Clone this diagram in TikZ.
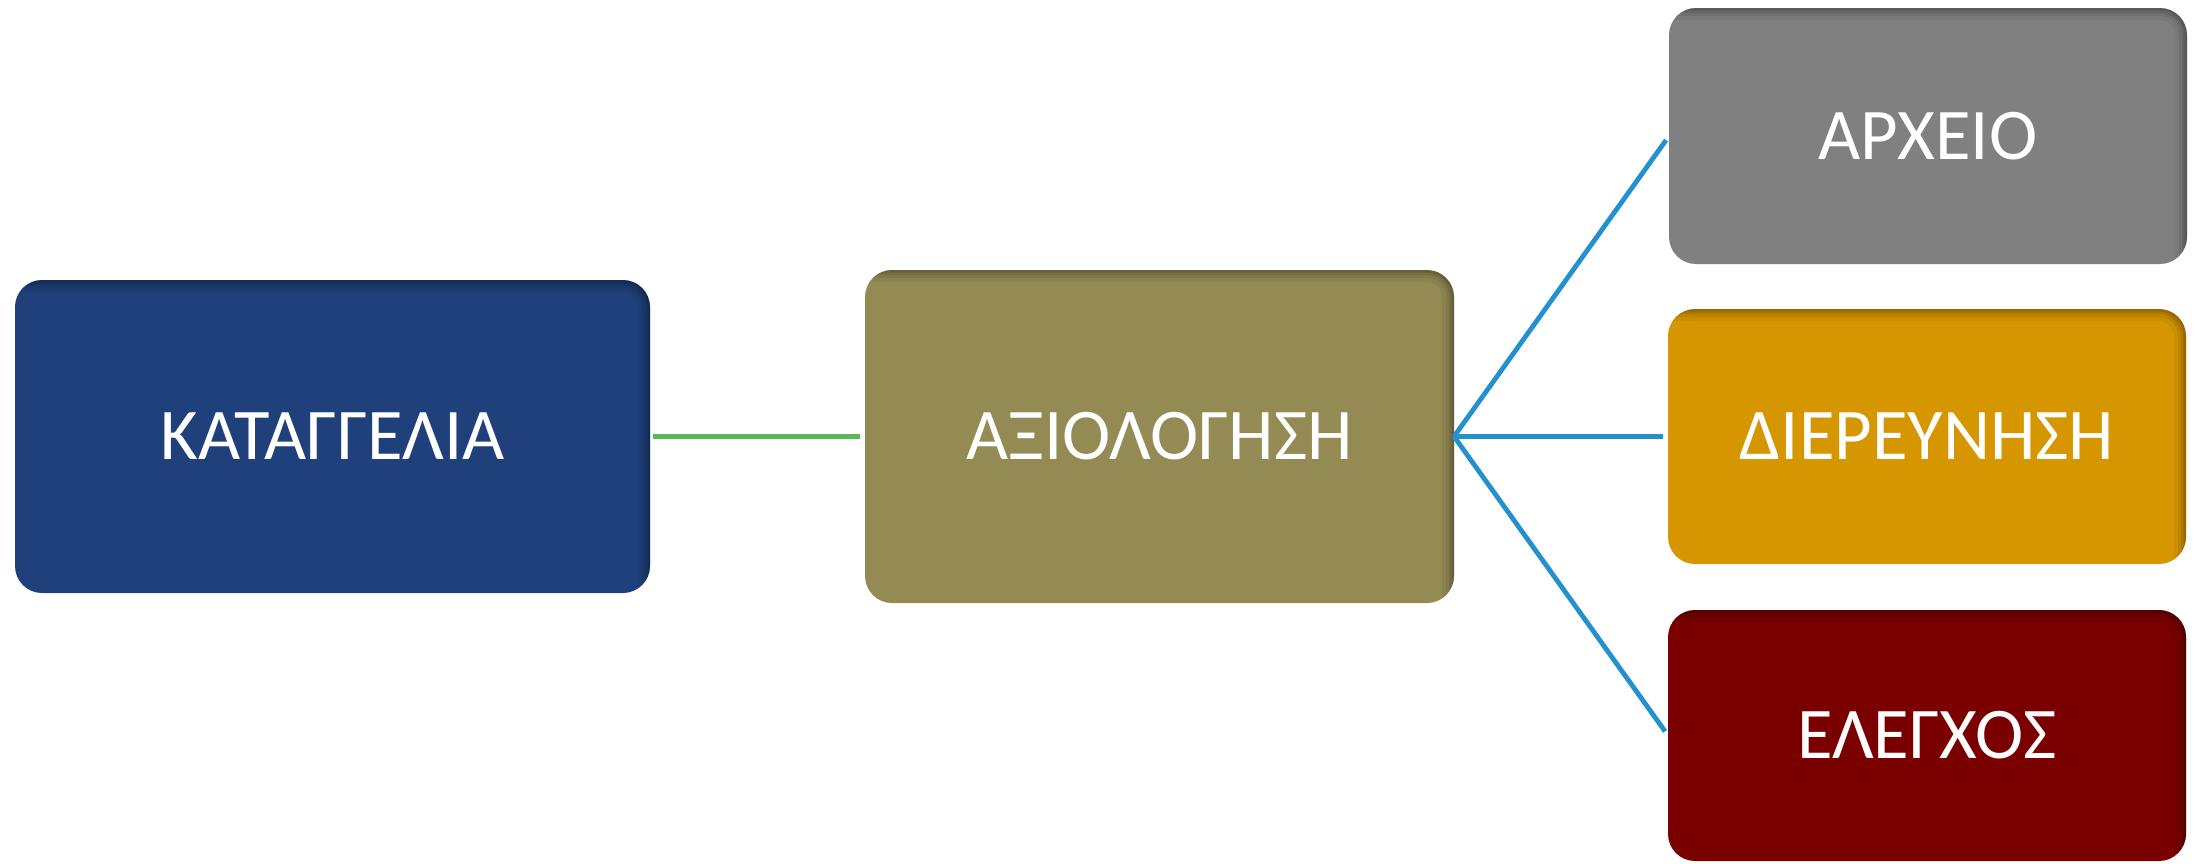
\documentclass[tikz,border=0pt]{standalone}
\usepackage{fontspec}
\setmainfont{Carlito}
\definecolor{katblue}{RGB}{31,64,122}
\definecolor{axiolive}{RGB}{148,138,84}
\definecolor{arxgray}{RGB}{128,128,128}
\definecolor{dieorange}{RGB}{214,150,0}
\definecolor{elered}{RGB}{122,0,0}
\definecolor{linkgreen}{RGB}{90,185,85}
\definecolor{linkblue}{RGB}{36,144,206}
\tikzset{
  stage/.style={rounded corners=13.5pt, inner sep=0pt, outer sep=0pt, text=white,
    font=\fontsize{36.4}{40}\selectfont,
    path picture={
      \foreach \w/\op in {12pt/.05, 8pt/.07, 5pt/.09, 2.5pt/.12}
        \draw[black, opacity=\op, line width=\w, rounded corners=13.5pt]
          ([shift={(-20pt,-20pt)}]path picture bounding box.south west)
          rectangle (path picture bounding box.north east);
    }},
  greenlink/.style={linkgreen, line width=2.4pt, shorten <=1.5pt, shorten >=2.5pt},
  bluelink/.style={linkblue, line width=2.4pt, shorten >=2.5pt},
}
\begin{document}
\begin{tikzpicture}[x=0.5pt,y=-0.5pt]
  \useasboundingbox (0,0) rectangle (2193,863);

  % the stages
  \node[stage, fill=katblue, minimum width=317.5pt, minimum height=156.5pt] (kat) at (332.5,436.5) {ΚΑΤΑΓΓΕΛΙΑ};
  \node[stage, fill=axiolive, minimum width=294.5pt, minimum height=166.5pt] (axi) at (1159.5,436.5) {ΑΞΙΟΛΟΓΗΣΗ};
  \node[stage, fill=arxgray, minimum width=259pt, minimum height=128pt] (arx) at (1928,136) {ΑΡΧΕΙΟ};
  \node[stage, fill=dieorange, minimum width=259pt, minimum height=127.5pt] (die) at (1927,436.5) {ΔΙΕΡΕΥΝΗΣΗ};
  \node[stage, fill=elered, minimum width=259pt, minimum height=125.5pt] (ele) at (1927,735.5) {ΕΛΕΓΧΟΣ};

  % links
  \draw[greenlink] (kat) -- (axi);
  \draw[bluelink] (axi.east) -- (arx.west);
  \draw[bluelink] (axi.east) -- (die.west);
  \draw[bluelink] (axi.east) -- (ele.west);
\end{tikzpicture}
\end{document}
